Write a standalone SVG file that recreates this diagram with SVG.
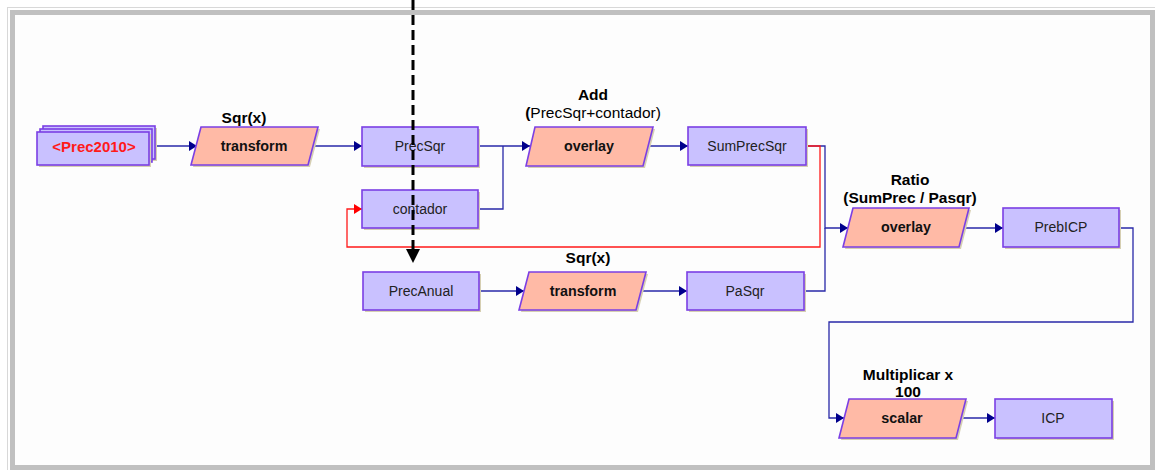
<svg xmlns="http://www.w3.org/2000/svg" width="1155" height="470" viewBox="0 0 1155 470">
  <style>
    .node { fill: #c9c1ff; stroke: #7b3fe4; stroke-width: 1.6; }
    .op { fill: #ffbaa6; stroke: #7b3fe4; stroke-width: 1.6; }
    .shadow { fill: #d6cfb2; }
    .ntext { font-family: "Liberation Sans", Arial, sans-serif; font-size: 14px; fill: #222; text-anchor: middle; }
    .otext { font-family: "Liberation Sans", Arial, sans-serif; font-size: 14.3px; font-weight: bold; fill: #111; text-anchor: middle; }
    .label { font-family: "Liberation Sans", Arial, sans-serif; font-size: 15.5px; font-weight: bold; fill: #000; text-anchor: middle; }
    .wire { fill: none; stroke: #2828a8; stroke-width: 1.3; }
    .wire-red { fill: none; stroke: #ff1a1a; stroke-width: 1.3; }
  </style>
  <defs>
    <marker id="arrow" markerWidth="8" markerHeight="10" refX="8" refY="5" orient="auto" markerUnits="userSpaceOnUse">
      <path d="M0,0 L8,5 L0,10 Z" fill="#00008c"/>
    </marker>
    <marker id="arrow-red" markerWidth="8" markerHeight="10" refX="8" refY="5" orient="auto" markerUnits="userSpaceOnUse">
      <path d="M0,0 L8,5 L0,10 Z" fill="#ff0000"/>
    </marker>
  </defs>

  <!-- canvas frame -->
  <rect x="0" y="0" width="1155" height="470" fill="#ffffff"/>
  <rect x="7.5" y="7.5" width="1150" height="470" fill="none" stroke="#d8d8d8" stroke-width="1"/>
  <path d="M12.5,470 V12.5 H1152.5 V467.5 H12.5" fill="none" stroke="#c0c0c0" stroke-width="5"/>
  <rect x="15" y="15" width="1135" height="450" fill="#fdfdfd"/>

  <!-- connectors -->
  <g id="connectors">
    <path class="wire" d="M155,146 H197" marker-end="url(#arrow)"/>
    <path class="wire" d="M313,146 H362" marker-end="url(#arrow)"/>
    <path class="wire" d="M478,146 H530" marker-end="url(#arrow)"/>
    <path class="wire" d="M478,209 H503 V146"/>
    <path class="wire" d="M648,146 H688" marker-end="url(#arrow)"/>
    <path class="wire" d="M806,146 H825 V228 H848" marker-end="url(#arrow)"/>
    <path class="wire" d="M804,291 H825 V228"/>
    <path class="wire-red" d="M806,146 H820 V247 H347 V209 H362" marker-end="url(#arrow-red)"/>
    <path class="wire" d="M479,291 H524" marker-end="url(#arrow)"/>
    <path class="wire" d="M641,291 H687" marker-end="url(#arrow)"/>
    <path class="wire" d="M964,228 H1003" marker-end="url(#arrow)"/>
    <path class="wire" d="M1119,228 H1133 V322 H829 V418 H844" marker-end="url(#arrow)"/>
    <path class="wire" d="M961,418 H995" marker-end="url(#arrow)"/>
  </g>

  <!-- source layer (stacked) -->
  <g id="prec2010">
    <rect class="shadow" x="45" y="128" width="112" height="33"/>
    <rect class="node" x="43" y="126" width="112" height="33"/>
    <rect class="node" x="40" y="129" width="112" height="33"/>
    <rect class="shadow" x="39" y="134" width="112" height="33"/>
    <rect class="node" x="37" y="132" width="112" height="33"/>
    <text x="94" y="152" font-family="Liberation Sans, Arial, sans-serif" font-size="15" font-weight="bold" fill="#ff1a1a" text-anchor="middle">&lt;Prec2010&gt;</text>
  </g>

  <g id="transform1">
    <text class="label" x="244" y="123">Sqr(x)</text>
    <polygon class="shadow" points="203,129 320,129 310,167 193,167"/>
    <polygon class="op" points="201,127 318,127 308,165 191,165"/>
    <text class="otext" x="254" y="151">transform</text>
  </g>

  <g id="precsqr">
    <rect class="shadow" x="364" y="129" width="116" height="39"/>
    <rect class="node" x="362" y="127" width="116" height="39"/>
    <text class="ntext" x="420" y="151">PrecSqr</text>
  </g>

  <g id="contador">
    <rect class="shadow" x="364" y="192" width="116" height="38"/>
    <rect class="node" x="362" y="190" width="116" height="38"/>
    <text class="ntext" x="420" y="214">contador</text>
  </g>

  <g id="overlay-add">
    <text class="label" x="593" y="100">Add</text>
    <text class="label" x="593" y="118"><tspan>(</tspan><tspan font-weight="normal">PrecSqr+contador)</tspan></text>
    <polygon class="shadow" points="537,129 655,129 645,168 528,168"/>
    <polygon class="op" points="535,127 653,127 643,166 526,166"/>
    <text class="otext" x="589" y="151">overlay</text>
  </g>

  <g id="sumprecsqr">
    <rect class="shadow" x="690" y="129" width="118" height="38"/>
    <rect class="node" x="688" y="127" width="118" height="38"/>
    <text class="ntext" x="747" y="151">SumPrecSqr</text>
  </g>

  <g id="precanual">
    <rect class="shadow" x="365" y="274" width="116" height="38"/>
    <rect class="node" x="363" y="272" width="116" height="38"/>
    <text class="ntext" x="421" y="296">PrecAnual</text>
  </g>

  <g id="transform2">
    <text class="label" x="588" y="263">Sqr(x)</text>
    <polygon class="shadow" points="531,274 648,274 638,312 521,312"/>
    <polygon class="op" points="529,272 646,272 636,310 519,310"/>
    <text class="otext" x="583" y="296">transform</text>
  </g>

  <g id="pasqr">
    <rect class="shadow" x="689" y="274" width="117" height="38"/>
    <rect class="node" x="687" y="272" width="117" height="38"/>
    <text class="ntext" x="745" y="296">PaSqr</text>
  </g>

  <g id="overlay-ratio">
    <text class="label" x="910" y="185">Ratio</text>
    <text class="label" x="910" y="203">(SumPrec / Pasqr)</text>
    <polygon class="shadow" points="855,210 971,210 961,249 845,249"/>
    <polygon class="op" points="853,208 969,208 959,247 843,247"/>
    <text class="otext" x="906" y="232">overlay</text>
  </g>

  <g id="preblcp">
    <rect class="shadow" x="1005" y="210" width="116" height="39"/>
    <rect class="node" x="1003" y="208" width="116" height="39"/>
    <text class="ntext" x="1061" y="232">PrebICP</text>
  </g>

  <g id="scalar">
    <text class="label" x="908" y="380">Multiplicar x</text>
    <text class="label" x="908" y="397">100</text>
    <polygon class="shadow" points="851,401 968,401 958,440 841,440"/>
    <polygon class="op" points="849,399 966,399 956,438 839,438"/>
    <text class="otext" x="902" y="423">scalar</text>
  </g>

  <g id="icp">
    <rect class="shadow" x="997" y="401" width="117" height="39"/>
    <rect class="node" x="995" y="399" width="117" height="39"/>
    <text class="ntext" x="1053" y="423">ICP</text>
  </g>

  <!-- dashed flow line from above -->
  <g id="dashed-flow">
    <path d="M413,0 V250" fill="none" stroke="#000" stroke-width="3" stroke-dasharray="10,5"/>
    <polygon points="406,249 420,249 413,263" fill="#000"/>
  </g>
</svg>
